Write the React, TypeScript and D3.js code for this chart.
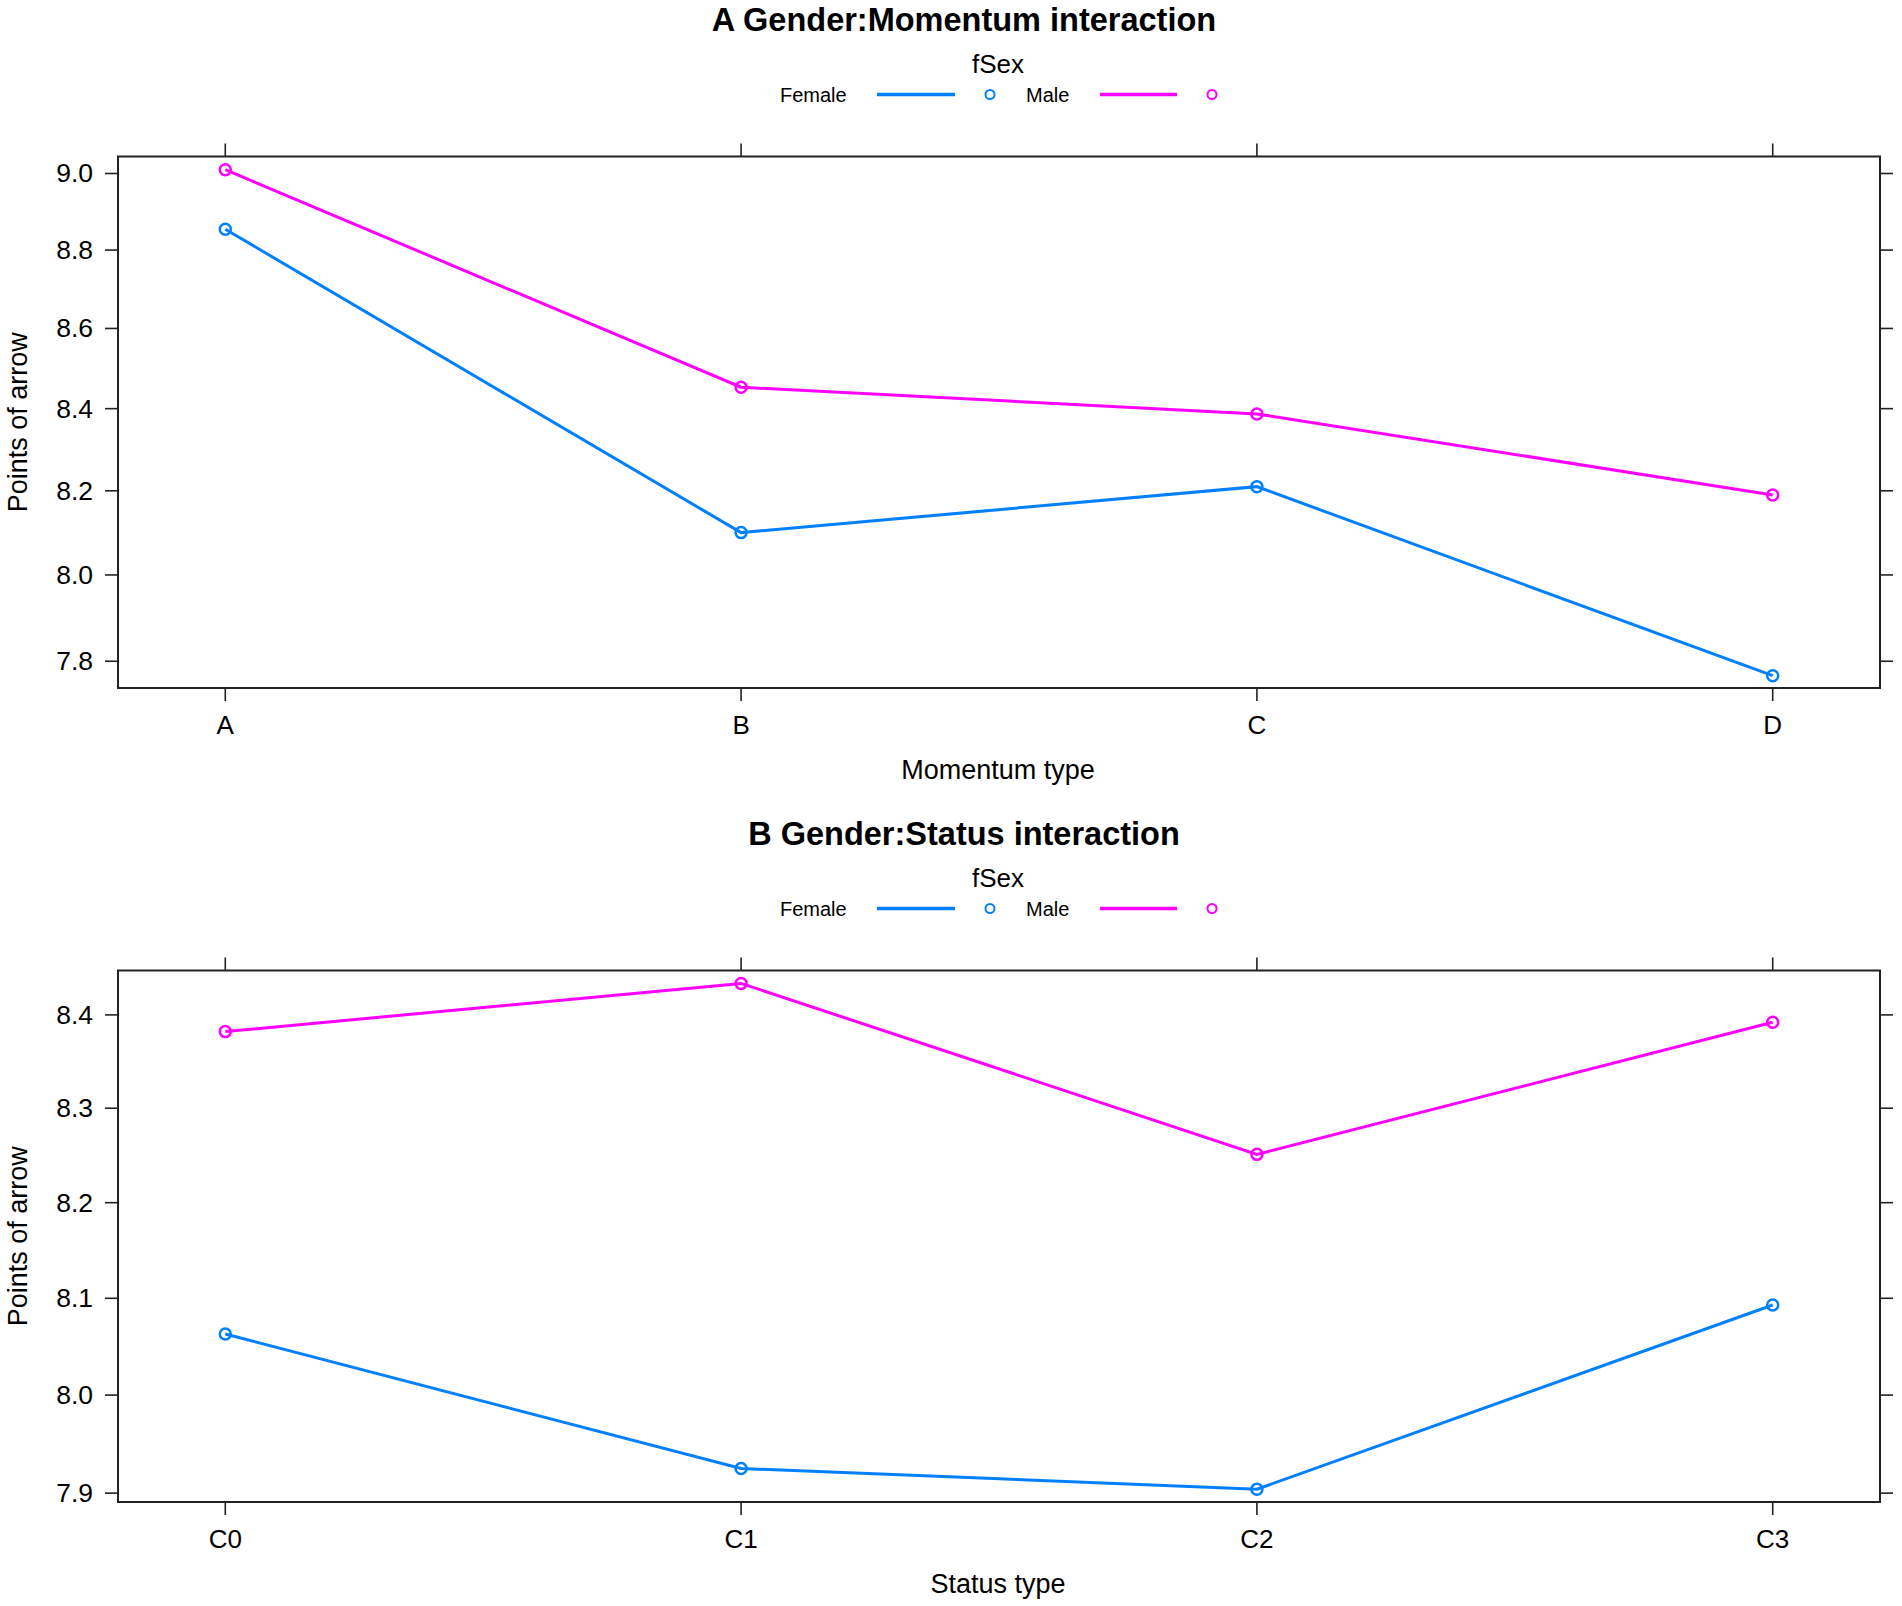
import { useRef, useEffect } from "react";
import * as d3 from "d3";

// values (effects on a log link scale)
const momentumTypes = ["A", "B", "C", "D"];
const momentumFemale = [8.854, 8.1, 8.21, 7.767];
const momentumMale = [9.01, 8.453, 8.387, 8.19];
const momentumTicks = [7.8, 8.0, 8.2, 8.4, 8.6, 8.8, 9.0];

const statusTypes = ["C0", "C1", "C2", "C3"];
const statusFemale = [8.063, 7.925, 7.904, 8.093];
const statusMale = [8.382, 8.434, 8.251, 8.392];
const statusTicks = [7.9, 8.0, 8.1, 8.2, 8.3, 8.4];

const seriesNames = ["Female", "Male"];
const seriesColors = ["#0080ff", "#ff00ff"];

const W = 1902;
const H = 1606;

const panels = [
    {
        title: "A Gender:Momentum interaction",
        xLabel: "Momentum type",
        cats: momentumTypes,
        series: [momentumFemale, momentumMale],
        ticks: momentumTicks,
        domain: [7.739, 9.045],
        top: 0,
    },
    {
        title: "B Gender:Status interaction",
        xLabel: "Status type",
        cats: statusTypes,
        series: [statusFemale, statusMale],
        ticks: statusTicks,
        domain: [7.891, 8.448],
        top: 814,
    },
];

const App = () => {
    const svgRef = useRef(null);

    useEffect(() => {
        const svg = d3.select(svgRef.current);
        svg.selectAll("*").remove();
        const font = "Arial, 'Liberation Sans', sans-serif";

        const left = 118;
        const right = 1880;
        const tickLen = 13;

        panels.forEach((p) => {
            const g = svg.append("g").attr("transform", `translate(0, ${p.top})`);
            const boxTop = 156.5;
            const boxBottom = 688;

            // title + legend
            g.append("text")
                .attr("x", 964).attr("y", 31)
                .attr("text-anchor", "middle")
                .style("font-family", font).style("font-weight", "bold").style("font-size", "32.5px")
                .text(p.title);
            g.append("text")
                .attr("x", 998).attr("y", 73)
                .attr("text-anchor", "middle")
                .style("font-family", font).style("font-size", "26px")
                .text("fSex");

            const legendX = [
                { label: 780, line: [877, 955], dot: 990 },
                { label: 1026, line: [1100, 1177], dot: 1212 },
            ];
            seriesNames.forEach((name, i) => {
                const lx = legendX[i];
                g.append("text")
                    .attr("x", lx.label).attr("y", 101.5)
                    .style("font-family", font).style("font-size", "20px")
                    .text(name);
                g.append("line")
                    .attr("x1", lx.line[0]).attr("x2", lx.line[1])
                    .attr("y1", 94.5).attr("y2", 94.5)
                    .attr("stroke", seriesColors[i]).attr("stroke-width", 3.5);
                g.append("circle")
                    .attr("cx", lx.dot).attr("cy", 94.5).attr("r", 4.5)
                    .attr("fill", "none").attr("stroke", seriesColors[i]).attr("stroke-width", 2);
            });

            const xScale = d3.scalePoint()
                .domain(p.cats)
                .range([left, right])
                .padding(0.208);

            const yScale = d3.scaleLog()
                .domain(p.domain)
                .range([boxBottom, boxTop]);

            // box
            g.append("rect")
                .attr("x", left).attr("y", boxTop)
                .attr("width", right - left).attr("height", boxBottom - boxTop)
                .attr("fill", "none").attr("stroke", "#222").attr("stroke-width", 2);

            // x ticks top and bottom
            p.cats.forEach((c) => {
                const x = xScale(c);
                g.append("line")
                    .attr("x1", x).attr("x2", x)
                    .attr("y1", boxTop - tickLen).attr("y2", boxTop)
                    .attr("stroke", "#222").attr("stroke-width", 1.6);
                g.append("line")
                    .attr("x1", x).attr("x2", x)
                    .attr("y1", boxBottom).attr("y2", boxBottom + tickLen)
                    .attr("stroke", "#222").attr("stroke-width", 1.6);
                g.append("text")
                    .attr("x", x).attr("y", boxBottom + 46)
                    .attr("text-anchor", "middle")
                    .style("font-family", font).style("font-size", "26px")
                    .text(c);
            });

            // y ticks left and right
            p.ticks.forEach((t) => {
                const y = yScale(t);
                g.append("line")
                    .attr("x1", left - tickLen).attr("x2", left)
                    .attr("y1", y).attr("y2", y)
                    .attr("stroke", "#222").attr("stroke-width", 1.6);
                g.append("line")
                    .attr("x1", right).attr("x2", right + tickLen)
                    .attr("y1", y).attr("y2", y)
                    .attr("stroke", "#222").attr("stroke-width", 1.6);
                g.append("text")
                    .attr("x", left - 25).attr("y", y + 9)
                    .attr("text-anchor", "end")
                    .style("font-family", font).style("font-size", "26.5px")
                    .text(d3.format(".1f")(t));
            });

            // axis titles
            g.append("text")
                .attr("x", 998).attr("y", boxBottom + 91)
                .attr("text-anchor", "middle")
                .style("font-family", font).style("font-size", "27px")
                .text(p.xLabel);
            g.append("text")
                .attr("transform", `translate(27, ${(boxTop + boxBottom) / 2}) rotate(-90)`)
                .attr("text-anchor", "middle")
                .style("font-family", font).style("font-size", "27px")
                .text("Points of arrow");

            // lines + points
            const lineGenerator = d3.line()
                .x((d, i) => xScale(p.cats[i]))
                .y((d) => yScale(d));

            p.series.forEach((vals, si) => {
                g.append("path")
                    .datum(vals)
                    .attr("d", lineGenerator)
                    .attr("fill", "none")
                    .attr("stroke", seriesColors[si])
                    .attr("stroke-width", 3);
                g.selectAll(null)
                    .data(vals)
                    .enter()
                    .append("circle")
                    .attr("cx", (d, i) => xScale(p.cats[i]))
                    .attr("cy", (d) => yScale(d))
                    .attr("r", 5.5)
                    .attr("fill", "none")
                    .attr("stroke", seriesColors[si])
                    .attr("stroke-width", 2.5);
            });
        });
    }, []);

    return (
        <svg
            ref={svgRef}
            width={W}
            height={H}
            style={{ position: "absolute", left: 0, top: 0, background: "white" }}
        ></svg>
    );
};

export default App;
